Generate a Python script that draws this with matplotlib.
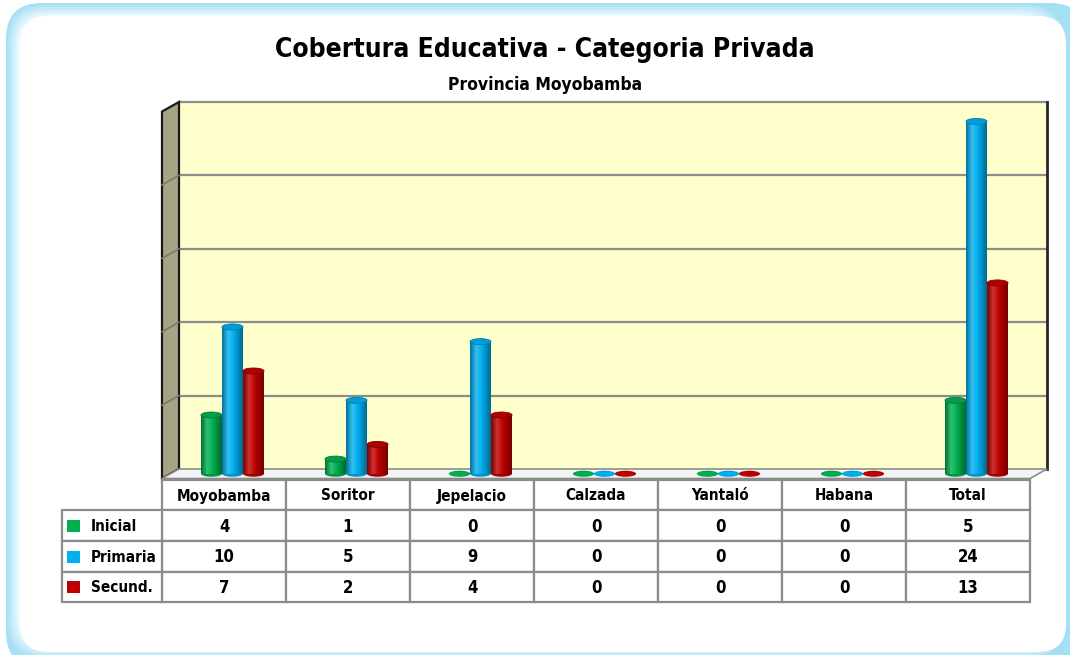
import numpy as np
import matplotlib
matplotlib.use('Agg')
import matplotlib.pyplot as plt
from matplotlib import font_manager as fm
from matplotlib.patches import Rectangle, Ellipse, Polygon, FancyBboxPatch
from matplotlib.colors import LinearSegmentedColormap, to_rgb

# datos
categorias = ['Moyobamba', 'Soritor', 'Jepelacio', 'Calzada', 'Yantaló', 'Habana', 'Total']
niveles = ['Inicial', 'Primaria', 'Secund.']
inicial = [4, 1, 0, 0, 0, 0, 5]
primaria = [10, 5, 9, 0, 0, 0, 24]
secundaria = [7, 2, 4, 0, 0, 0, 13]
series = [inicial, primaria, secundaria]
colores = ['#00B050', '#00B0F0', '#C00000']
titulo = 'Cobertura Educativa - Categoria Privada'
subtitulo = 'Provincia Moyobamba'
y_max = 25
y_paso = 5

# fuente angosta si hay alguna instalada
fuentes = fm.fontManager.ttflist
nombres = {f.name for f in fuentes}
STRETCH = 'normal'
if 'Liberation Sans Narrow' in nombres:
    FAM = 'Liberation Sans Narrow'
elif any(f.name == 'DejaVu Sans' and f.stretch == 'condensed' for f in fuentes):
    FAM, STRETCH = 'DejaVu Sans', 'condensed'
elif 'Roboto Condensed' in nombres:
    FAM = 'Roboto Condensed'
else:
    FAM = 'Lato'
FONT = [FAM, 'DejaVu Sans']


def mezcla(c, otro, t):
    a = np.array(to_rgb(c))
    b = np.array(to_rgb(otro))
    return tuple(a * (1 - t) + b * t)


W, H = 1070, 655
fig = plt.figure(figsize=(W / 100, H / 100), dpi=100)
fig.patch.set_facecolor('white')

# fondo con borde azul difuminado
bg = fig.add_axes([0, 0, 1, 1])
bg.set_xlim(0, W)
bg.set_ylim(H, 0)
bg.axis('off')
bg.add_patch(FancyBboxPatch((6, 3), W + 10, H + 10, boxstyle='round,pad=0,rounding_size=36',
                            fc='#a4dff6', ec='none'))
for k in range(6):
    t = (k + 1) / 7
    bg.add_patch(FancyBboxPatch((8 + 2 * k, 5 + 2 * k), W + 4 - 4 * k - 20, H + 4 - 4 * k - 6,
                                boxstyle='round,pad=0,rounding_size=34',
                                fc=mezcla('#a4dff6', 'white', t), ec='none'))
bg.add_patch(FancyBboxPatch((20, 16), 1046, 636, boxstyle='round,pad=0,rounding_size=28',
                            fc='white', ec='none'))

fig.text(545 / W, 1 - 50 / H, titulo, ha='center', va='center', fontsize=19,
         fontweight='bold', family=FONT, fontstretch=STRETCH)
fig.text(545 / W, 1 - 85 / H, subtitulo, ha='center', va='center', fontsize=12.5,
         fontweight='bold', family=FONT, fontstretch=STRETCH)

# area del grafico (plano frontal)
ax_l, ax_w, ax_b, ax_h = 162, 868, 478.5, 367
ax = fig.add_axes([ax_l / W, (H - ax_b) / H, ax_w / W, ax_h / H])
n = len(categorias)
ax.axis('off')

px_x = ax_w / n
px_y = ax_h / y_max
ddx = 17 / px_x
ddy = 9.5 / px_y

x0, x1 = -0.5, n - 0.5

# pared del fondo
ax.add_patch(Rectangle((x0 + ddx, ddy), n, y_max, fc='#FFFFCC', ec='none', zorder=1, clip_on=False))
for g in range(y_paso, y_max, y_paso):
    ax.plot([x0 + ddx, x1 + ddx], [g + ddy, g + ddy], color='#8c8c8c', lw=1.6, zorder=2, clip_on=False)
ax.plot([x0 + ddx, x1 + ddx], [y_max + ddy] * 2, color='#8c8c8c', lw=1.6, zorder=2, clip_on=False)
ax.plot([x1 + ddx] * 2, [ddy, y_max + ddy], color='#262626', lw=2, zorder=2, clip_on=False)

# pared lateral
ax.add_patch(Polygon([(x0, 0), (x0 + ddx, ddy), (x0 + ddx, y_max + ddy), (x0, y_max)],
                     closed=True, fc='#A6A486', ec='#1a1a1a', lw=1.6, zorder=2, clip_on=False))
for g in range(y_paso, y_max, y_paso):
    ax.plot([x0, x0 + ddx], [g, g + ddy], color='#7a7a6a', lw=1.2, zorder=2.5, clip_on=False)

# piso
ax.add_patch(Polygon([(x0, 0), (x1, 0), (x1 + ddx, ddy), (x0 + ddx, ddy)], closed=True,
                     fc='#F4F4F4', ec='#8c8c8c', lw=1.2, zorder=2, clip_on=False))

# cilindros
w = 21 / px_x
eh = 6 / px_y
base = ddy / 2
grad = np.linspace(0, 1, 80).reshape(1, -1)
for s, (vals, c) in enumerate(zip(series, colores)):
    cm = LinearSegmentedColormap.from_list(
        'c%d' % s, [(0, mezcla(c, 'black', 0.35)), (0.3, mezcla(c, 'white', 0.2)),
                    (0.55, c), (1, mezcla(c, 'black', 0.4))])
    for i, v in enumerate(vals):
        xc = i + (s - 1) * w + ddx / 2
        z = 5 + s
        ax.add_patch(Ellipse((xc, base), w, eh, fc=mezcla(c, 'black', 0.15), ec='none', zorder=z))
        if v > 0:
            rect = ax.bar(xc, v, w, bottom=base, color=c, zorder=z, linewidth=0)[0]
            im = ax.imshow(grad, cmap=cm, extent=[xc - w / 2, xc + w / 2, base, base + v],
                           aspect='auto', zorder=z + 0.1, interpolation='bilinear')
            im.set_clip_path(rect)
            ax.add_patch(Ellipse((xc, base + v), w, eh, fc=mezcla(c, 'black', 0.1),
                                 ec=mezcla(c, 'black', 0.3), lw=0.6, zorder=z + 0.2))
        else:
            ax.add_patch(Ellipse((xc, base), w, eh * 0.7, fc=c, ec='none', zorder=z + 0.2))

ax.set_xlim(x0, x1)
ax.set_ylim(0, y_max)
ax.set_aspect('auto')

# tabla de datos (dibujada en coordenadas de pixel de la figura)
tb = fig.add_axes([0, 0, 1, 1], zorder=3)
tb.set_xlim(0, W)
tb.set_ylim(H, 0)
tb.axis('off')
col_x0, col_w = 162, 124
lab_x0 = 62
fila_y = [480, 510, 541, 572, 602]
gris = '#8c8c8c'
txt = dict(fontsize=11, fontweight='bold', family=FONT, fontstretch=STRETCH,
           ha='center', va='center')
num = dict(txt, fontsize=12)
for j, cat in enumerate(categorias):
    xl = col_x0 + j * col_w
    for r in range(len(niveles) + 1):
        tb.add_patch(Rectangle((xl, fila_y[r]), col_w, fila_y[r + 1] - fila_y[r],
                               fc='white', ec=gris, lw=1.6))
    tb.text(xl + col_w / 2, (fila_y[0] + fila_y[1]) / 2 + 1, cat, **txt)
    for r in range(len(niveles)):
        tb.text(xl + col_w / 2, (fila_y[r + 1] + fila_y[r + 2]) / 2 + 1, str(series[r][j]), **num)
for r, (nombre, c) in enumerate(zip(niveles, colores)):
    yt, yb = fila_y[r + 1], fila_y[r + 2]
    tb.add_patch(Rectangle((lab_x0, yt), col_x0 - lab_x0, yb - yt, fc='white', ec=gris, lw=1.6))
    tb.add_patch(Rectangle((lab_x0 + 5, (yt + yb) / 2 - 6), 13, 12, fc=c, ec='none'))
    tb.text(lab_x0 + 29, (yt + yb) / 2 + 1, nombre, **dict(txt, ha='left'))

fig.savefig('out.png', dpi=100)
